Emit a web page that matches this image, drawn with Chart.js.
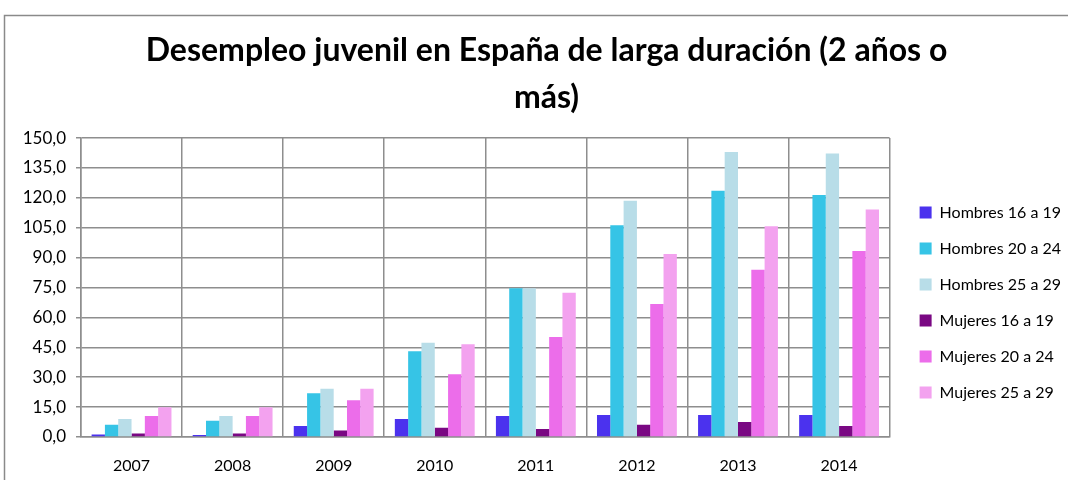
<!DOCTYPE html>
<html>
<head>
<meta charset="utf-8">
<script src="https://cdn.jsdelivr.net/npm/chart.js@4/dist/chart.umd.min.js"></script>
<style>
  html, body { margin: 0; padding: 0; background: #fff; }
  #wrap { width: 1068px; height: 480px; }
</style>
</head>
<body>
<div id="wrap"><canvas id="chart" width="1068" height="480"></canvas></div>
<script>
// datos
const years = ['2007', '2008', '2009', '2010', '2011', '2012', '2013', '2014'];
const hombres16a19 = [1.2, 1.0, 5.5, 9.0, 10.5, 11.0, 11.0, 11.0];
const hombres20a24 = [6.2, 8.2, 21.9, 43.0, 74.6, 106.2, 123.6, 121.4];
const hombres25a29 = [9.0, 10.5, 24.2, 47.3, 74.6, 118.6, 143.0, 142.3];
const mujeres16a19 = [1.8, 1.8, 3.2, 4.7, 4.0, 6.2, 7.5, 5.5];
const mujeres20a24 = [10.5, 10.5, 18.4, 31.5, 50.2, 66.7, 83.9, 93.3];
const mujeres25a29 = [14.9, 14.9, 24.2, 46.5, 72.4, 91.8, 105.7, 114.2];
const yTickLabels = ['0,0', '15,0', '30,0', '45,0', '60,0', '75,0', '90,0', '105,0', '120,0', '135,0', '150,0'];

const gridColor = '#8e8e8e';
const fontFamily = 'Lato, "Open Sans", sans-serif';

// marco exterior (linea arriba y a la izquierda)
const framePlugin = {
    id: 'frame',
    afterDraw(chart) {
        const ctx = chart.ctx;
        ctx.save();
        ctx.strokeStyle = '#8a8a8a';
        ctx.lineWidth = 1.5;
        ctx.beginPath();
        ctx.moveTo(4.5, 480);
        ctx.lineTo(4.5, 15.5);
        ctx.lineTo(1068, 15.5);
        ctx.stroke();
        ctx.restore();
    }
};

const ctx = document.getElementById('chart').getContext('2d');

new Chart(ctx, {
    type: 'bar',
    data: {
        labels: years,
        datasets: [
            { label: 'Hombres 16 a 19', data: hombres16a19, backgroundColor: '#4b32ee' },
            { label: 'Hombres 20 a 24', data: hombres20a24, backgroundColor: '#36c4e6' },
            { label: 'Hombres 25 a 29', data: hombres25a29, backgroundColor: '#b8dde8' },
            { label: 'Mujeres 16 a 19', data: mujeres16a19, backgroundColor: '#7a0883' },
            { label: 'Mujeres 20 a 24', data: mujeres20a24, backgroundColor: '#ec6dea' },
            { label: 'Mujeres 25 a 29', data: mujeres25a29, backgroundColor: '#f3a2ef' }
        ]
    },
    options: {
        responsive: false,
        animation: false,
        devicePixelRatio: 1,
        datasets: {
            bar: { barPercentage: 1.0, categoryPercentage: 0.79 }
        },
        layout: { padding: { left: 22, right: -3, top: 15, bottom: 0 } },
        plugins: {
            title: {
                display: true,
                text: ['Desempleo juvenil en España de larga duración (2 años o', 'más)'],
                color: '#000',
                font: { family: fontFamily, size: 32, weight: 'bold', lineHeight: 1.47 },
                padding: { top: 12, bottom: 17 }
            },
            legend: {
                position: 'right',
                fullSize: false,
                title: { display: true, text: ' ', font: { size: 10, lineHeight: 1.2 }, padding: 9 },
                labels: {
                    boxWidth: 12,
                    boxHeight: 12,
                    padding: 20,
                    color: '#000',
                    font: { family: fontFamily, size: 16 }
                }
            },
            tooltip: { enabled: false }
        },
        scales: {
            x: {
                grid: { color: gridColor, lineWidth: 1.5, drawTicks: false, offset: true },
                border: { color: gridColor, width: 1.5 },
                ticks: { color: '#000', padding: 19, font: { family: fontFamily, size: 16 } },
                afterFit(scale) { scale.height = 43; }
            },
            y: {
                min: 0,
                max: 150,
                grid: { color: gridColor, lineWidth: 1.5, tickLength: 5 },
                border: { color: gridColor, width: 1.5 },
                ticks: {
                    stepSize: 15,
                    color: '#000',
                    padding: 10,
                    font: { family: fontFamily, size: 17 },
                    callback: (value, index) => yTickLabels[index]
                },
                afterFit(scale) { scale.width = 59; }
            },
            // eje vacio para separar la leyenda del area del grafico
            spacer: {
                type: 'linear',
                position: 'right',
                display: true,
                grid: { display: false },
                border: { display: false },
                ticks: { display: false },
                afterFit(scale) { scale.width = 10; }
            }
        }
    },
    plugins: [framePlugin]
});
</script>
</body>
</html>
